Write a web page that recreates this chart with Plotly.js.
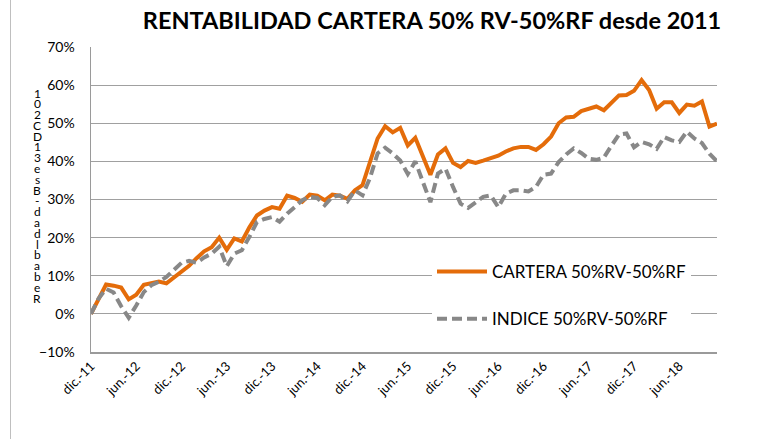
<!DOCTYPE html>
<html>
<head>
<meta charset="utf-8">
<script src="https://cdn.plot.ly/plotly-3.0.1.min.js"></script>
<style>
  html, body { margin: 0; padding: 0; background: #ffffff; }
  #wrap { position: relative; width: 758px; height: 439px; }
  #chart { width: 758px; height: 439px; }
  #frame { position: absolute; left: 10px; top: 0; width: 1px; height: 439px; background: #bfbfbf; }
</style>
</head>
<body>
<div id="wrap">
  <div id="chart"></div>
  <div id="frame"></div>
</div>
<script>
// ---- data (monthly, dic.-11 .. nov.-18) ----
const monthAbbr = ["ene.", "feb.", "mar.", "abr.", "may.", "jun.", "jul.", "ago.", "sep.", "oct.", "nov.", "dic."];
const startMonth = 11;   // index into monthAbbr (dic.)
const startYear = 11;    // 2011
const nMonths = 84;

const cartera = [
  0, 4, 7.7, 7.4, 6.9, 3.8, 5.0, 7.6, 8.0, 8.5,
  8.0, 9.5, 11, 12.6, 14.6, 16.4, 17.5, 20, 16.8, 19.8,
  19, 22.7, 25.8, 27.1, 28, 27.6, 31, 30.4, 29.4, 31.3,
  31, 29.8, 31.3, 31, 30.2, 32.4, 33.8, 39.5, 46, 49.2,
  47.6, 48.8, 44.2, 46.2, 41.6, 36.5, 41.8, 43.4, 39.6, 38.5,
  40.1, 39.6, 40.2, 40.9, 41.5, 42.6, 43.4, 43.8, 43.8, 43,
  44.5, 46.5, 50, 51.5, 51.7, 53.2, 53.8, 54.4, 53.4, 55.3,
  57.3, 57.4, 58.5, 61.3, 58.7, 53.8, 55.5, 55.5, 52.7, 54.9,
  54.6, 55.7, 49.1, 49.9
];

const indice = [
  0, 4, 6.6, 5.6, 2, -1, 2.2, 5.7, 7.5, 8.4,
  9.7, 11.5, 13.4, 13.9, 13.4, 14.8, 15.8, 17.6, 12.5, 15.8,
  16.7, 20.2, 24.1, 24.9, 25.4, 24.2, 26.3, 28, 29.8, 30.7,
  30.4, 28.5, 30.7, 31.1, 29.5, 32.4, 31.1, 35.7, 42.1, 43.6,
  42.1, 40.2, 36.7, 40, 34.6, 29.3, 36.8, 38.1, 33.3, 28.9,
  27.8, 29.3, 30.7, 31.1, 28, 31.5, 32.4, 32.4, 32.1, 33.3,
  36.5, 36.8, 39.8, 41.8, 43.4, 42.2, 40.7, 40.4, 41, 44.1,
  47, 47.3, 43.7, 45.1, 44.5, 43.3, 46.4, 45.5, 45.1, 47.8,
  46, 44.8, 42, 40
];

const tickLabels = ["dic.-11", "jun.-12", "dic.-12", "jun.-13", "dic.-13", "jun.-14", "dic.-14",
                    "jun.-15", "dic.-15", "jun.-16", "dic.-16", "jun.-17", "dic.-17", "jun.-18"];

const seriesNames = ["CARTERA 50%RV-50%RF", "INDICE 50%RV-50%RF"];
const titleText = "RENTABILIDAD CARTERA 50% RV-50%RF desde 2011";
const yTitleChars = ["1", "0", "2", "C", "D", "1", "3", "e", "s", "B", "-", "d", "a", "d", "l", "b", "a", "b", "e", "R"];

// month category labels
const months = [];
for (let i = 0; i < nMonths; i++) {
  const m = (startMonth + i) % 12;
  const y = startYear + Math.floor((startMonth + i) / 12);
  months.push(monthAbbr[m] + "-" + String(y).padStart(2, "0"));
}

const FONT = "Lato, 'Open Sans', sans-serif";

const traces = [
  {
    x: months, y: cartera, name: seriesNames[0], type: "scatter", mode: "lines",
    legendgroup: "a",
    line: { color: "#E46C0A", width: 4 }
  },
  {
    x: months, y: indice, name: seriesNames[1], type: "scatter", mode: "lines",
    legendgroup: "b",
    line: { color: "#888888", width: 4, dash: "10px,5px" }
  }
];

// layout geometry (pixels)
const W = 758, H = 439;
const M = { l: 91, r: 41, t: 47, b: 87 };
const plotW = W - M.l - M.r, plotH = H - M.t - M.b;

const annotations = [];
const yTop = 93, yBot = 298, xc = 37;
yTitleChars.forEach((ch, k) => {
  const py = yTop + (yBot - yTop) * k / (yTitleChars.length - 1);
  annotations.push({
    text: ch, showarrow: false, xref: "paper", yref: "paper",
    x: (xc - M.l) / plotW, y: (H - M.b - py) / plotH,
    xanchor: "center", yanchor: "middle",
    font: { family: FONT, size: 12, color: "#000000" }
  });
});

const layout = {
  width: W, height: H,
  margin: M,
  paper_bgcolor: "#ffffff",
  plot_bgcolor: "#ffffff",
  title: {
    text: "<b>" + titleText + "</b>",
    font: { family: FONT, size: 23.5, color: "#000000" },
    xref: "container", yref: "container",
    x: 432 / W, xanchor: "center",
    y: 1 - 21 / H, yanchor: "middle"
  },
  xaxis: {
    type: "category",
    range: [0, nMonths - 1],
    tickvals: tickLabels, ticktext: tickLabels,
    tickangle: -45,
    tickfont: { family: FONT, size: 13, color: "#000000" },
    showgrid: false, zeroline: false,
    showline: true, linecolor: "#9a9a9a", linewidth: 1.5,
    ticks: "", ticklen: 0
  },
  yaxis: {
    range: [-10, 70], dtick: 10, tick0: 0,
    ticksuffix: "%",
    tickfont: { family: FONT, size: 14, color: "#000000" },
    showgrid: true, gridcolor: "#a0a0a0", gridwidth: 1,
    zeroline: false,
    showline: true, linecolor: "#9a9a9a", linewidth: 1.5,
    ticks: "outside", ticklen: 12, tickcolor: "rgba(0,0,0,0)"
  },
  showlegend: true,
  legend: {
    x: (432 - M.l) / plotW, xanchor: "left",
    y: (H - M.b - 254) / plotH, yanchor: "top",
    bgcolor: "#ffffff",
    borderwidth: 0,
    itemwidth: 50,
    font: { family: FONT, size: 17, color: "#000000" },
    traceorder: "grouped",
    tracegroupgap: 22
  },
  annotations: annotations
};

Plotly.newPlot("chart", traces, layout, { displayModeBar: false, staticPlot: true });
</script>
</body>
</html>
